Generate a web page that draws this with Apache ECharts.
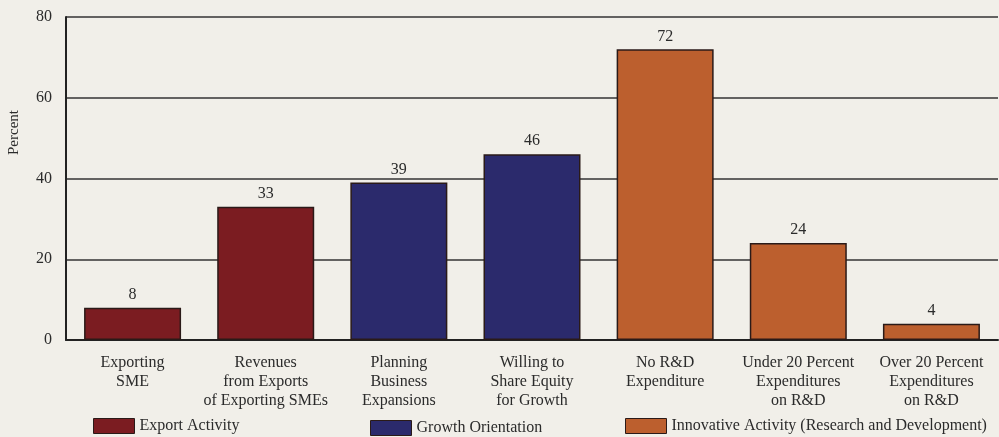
<!DOCTYPE html>
<html>
<head>
<meta charset="utf-8">
<script src="https://cdn.jsdelivr.net/npm/echarts@6/dist/echarts.min.js"></script>
<style>
  html, body { margin: 0; padding: 0; background: #f1efe9; }
  #chart { width: 999px; height: 437px; }
</style>
</head>
<body>
<div id="chart"></div>
<script>
// categories and values
var categories = [
  "Exporting\nSME",
  "Revenues\nfrom Exports\nof Exporting SMEs",
  "Planning\nBusiness\nExpansions",
  "Willing to\nShare Equity\nfor Growth",
  "No R&D\nExpenditure",
  "Under 20 Percent\nExpenditures\non R&D",
  "Over 20 Percent\nExpenditures\non R&D"
];
var exportActivity = [8, 33, "-", "-", "-", "-", "-"];
var growthOrientation = ["-", "-", 39, 46, "-", "-", "-"];
var innovativeActivity = ["-", "-", "-", "-", 72, 24, 4];
var yTicks = [0, 20, 40, 60, 80];

var serif = "Liberation Serif";
var textColor = "#2b2b2b";

function barSeries(name, data, color) {
  return {
    name: name,
    type: "bar",
    data: data,
    barWidth: 97,
    barGap: "-100%",
    itemStyle: { color: color, borderColor: "#2a1a18", borderWidth: 1.5 },
    label: {
      show: true,
      position: "top",
      distance: 5,
      fontFamily: serif,
      fontSize: 16,
      color: textColor
    },
    animation: false
  };
}

var chart = echarts.init(document.getElementById("chart"));
var legendBase = {
  icon: "rect",
  itemWidth: 41,
  itemHeight: 15,
  itemGap: 8,
  padding: 0,
  top: 418,
  textStyle: { fontFamily: serif, fontSize: 16, color: textColor },
  itemStyle: { borderColor: "#2a1a18", borderWidth: 1 }
};
chart.setOption({
  backgroundColor: "#f1efe9",
  grid: { left: 66, right: 1, top: 17, bottom: 97 },
  legend: [
    Object.assign({}, legendBase, { data: ["Export Activity"], left: 93 }),
    Object.assign({}, legendBase, { data: ["Growth Orientation"], left: 370, top: 420 }),
    Object.assign({}, legendBase, { data: ["Innovative Activity (Research and Development)"], left: 625 })
  ],
  xAxis: {
    type: "category",
    data: categories,
    axisLine: { lineStyle: { color: "#222", width: 2 } },
    axisTick: { show: false },
    axisLabel: {
      interval: 0,
      margin: 13,
      fontFamily: serif,
      fontSize: 16,
      lineHeight: 19,
      color: textColor
    }
  },
  yAxis: {
    type: "value",
    min: yTicks[0],
    max: yTicks[yTicks.length - 1],
    interval: 20,
    axisLine: { show: true, lineStyle: { color: "#222", width: 2 } },
    axisTick: { show: false },
    splitLine: { lineStyle: { color: "#333", width: 1.5 } },
    axisLabel: {
      margin: 14,
      fontFamily: serif,
      fontSize: 16,
      color: textColor
    }
  },
  graphic: [{
    type: "text",
    left: 7,
    top: 110,
    rotation: Math.PI / 2,
    style: {
      text: "Percent",
      fontFamily: serif,
      fontSize: 15,
      fill: textColor
    }
  }],
  series: [
    barSeries("Export Activity", exportActivity, "#7b1c21"),
    barSeries("Growth Orientation", growthOrientation, "#2b2a6c"),
    barSeries("Innovative Activity (Research and Development)", innovativeActivity, "#bc5f2e")
  ]
});
</script>
</body>
</html>
